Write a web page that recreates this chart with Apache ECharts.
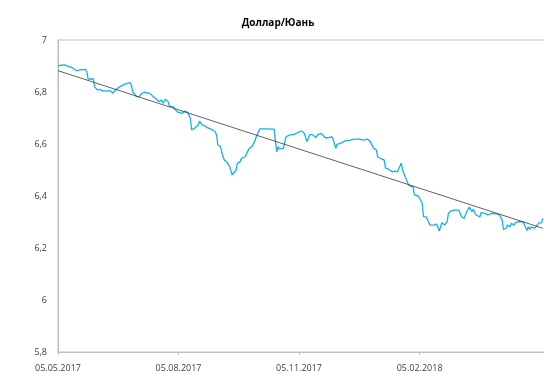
<!DOCTYPE html>
<html>
<head>
<meta charset="utf-8">
<script src="https://cdn.jsdelivr.net/npm/echarts@6/dist/echarts.min.js"></script>
<style>
  html, body { margin: 0; padding: 0; background: #fff; overflow: hidden; }
  #chart { width: 556px; height: 374px; }
</style>
</head>
<body>
<div id="chart"></div>
<script>
// USD/CNY daily rate, May 2017 - May 2018
const dates = [
  '2017-05-05','2017-05-10','2017-05-14','2017-05-16','2017-05-19','2017-05-20','2017-05-23','2017-05-26','2017-05-27','2017-05-28',
  '2017-06-01','2017-06-02','2017-06-04','2017-06-06','2017-06-08','2017-06-14','2017-06-16','2017-06-17','2017-06-19','2017-06-21',
  '2017-06-25','2017-06-29','2017-06-30','2017-07-01','2017-07-04','2017-07-06','2017-07-08','2017-07-10','2017-07-14','2017-07-16',
  '2017-07-19','2017-07-21','2017-07-23','2017-07-24','2017-07-26','2017-07-28','2017-07-29','2017-08-01','2017-08-02','2017-08-04',
  '2017-08-08','2017-08-10','2017-08-12','2017-08-14','2017-08-15','2017-08-16','2017-08-17','2017-08-20','2017-08-21','2017-08-23',
  '2017-08-25','2017-08-27','2017-08-31','2017-09-02','2017-09-03','2017-09-04','2017-09-06','2017-09-07','2017-09-08','2017-09-09',
  '2017-09-11','2017-09-12','2017-09-13','2017-09-15','2017-09-16','2017-09-18','2017-09-19','2017-09-21','2017-09-22','2017-09-25',
  '2017-09-26','2017-09-27','2017-09-28','2017-09-30','2017-10-02','2017-10-04','2017-10-06','2017-10-10','2017-10-17','2017-10-18',
  '2017-10-19','2017-10-20','2017-10-21','2017-10-24','2017-10-26','2017-10-27','2017-10-29','2017-10-30','2017-11-01','2017-11-03',
  '2017-11-05','2017-11-07','2017-11-09','2017-11-11','2017-11-12','2017-11-13','2017-11-15','2017-11-18','2017-11-19','2017-11-22',
  '2017-11-25','2017-11-27','2017-11-30','2017-12-01','2017-12-03','2017-12-04','2017-12-07','2017-12-10','2017-12-14','2017-12-17',
  '2017-12-21','2017-12-24','2017-12-27','2017-12-29','2017-12-30','2018-01-01','2018-01-03','2018-01-04','2018-01-06','2018-01-07',
  '2018-01-09','2018-01-10','2018-01-12','2018-01-13','2018-01-15','2018-01-17','2018-01-19','2018-01-22','2018-01-23','2018-01-25',
  '2018-01-27','2018-01-28','2018-01-31','2018-02-01','2018-02-04','2018-02-07','2018-02-08','2018-02-10','2018-02-11','2018-02-13',
  '2018-02-14','2018-02-16','2018-02-18','2018-02-19','2018-02-20','2018-02-22','2018-02-23','2018-02-24','2018-02-26','2018-02-27',
  '2018-03-01','2018-03-04','2018-03-07','2018-03-09','2018-03-11','2018-03-13','2018-03-15','2018-03-17','2018-03-18','2018-03-20',
  '2018-03-21','2018-03-23','2018-03-24','2018-03-27','2018-03-29','2018-04-01','2018-04-05','2018-04-07','2018-04-09','2018-04-10',
  '2018-04-12','2018-04-13','2018-04-15','2018-04-16','2018-04-18','2018-04-19','2018-04-21','2018-04-25','2018-04-26','2018-04-28',
  '2018-04-29','2018-04-30','2018-05-01','2018-05-04','2018-05-05','2018-05-07','2018-05-09','2018-05-10'
];

const rates = [
  6.901,6.904,6.897,6.893,6.882,6.887,6.886,6.887,6.878,6.850,
  6.850,6.820,6.808,6.810,6.804,6.804,6.795,6.804,6.812,6.820,
  6.830,6.836,6.827,6.801,6.782,6.782,6.795,6.799,6.795,6.786,
  6.773,6.763,6.769,6.757,6.772,6.763,6.747,6.743,6.735,6.724,
  6.718,6.727,6.722,6.699,6.654,6.647,6.660,6.673,6.688,6.673,
  6.670,6.663,6.654,6.647,6.635,6.596,6.590,6.570,6.551,6.538,
  6.530,6.526,6.513,6.481,6.478,6.500,6.526,6.532,6.545,6.551,
  6.564,6.564,6.583,6.590,6.609,6.637,6.658,6.658,6.657,6.609,
  6.570,6.590,6.581,6.583,6.628,6.622,6.635,6.628,6.637,6.641,
  6.647,6.650,6.641,6.609,6.603,6.635,6.637,6.624,6.635,6.641,
  6.624,6.624,6.628,6.619,6.583,6.599,6.603,6.612,6.615,6.619,
  6.619,6.615,6.619,6.612,6.609,6.583,6.577,6.551,6.545,6.551,
  6.538,6.507,6.504,6.504,6.493,6.496,6.493,6.526,6.500,6.474,
  6.449,6.440,6.436,6.404,6.400,6.372,6.320,6.320,6.327,6.288,
  6.295,6.288,6.292,6.280,6.265,6.297,6.297,6.288,6.301,6.333,
  6.343,6.346,6.346,6.320,6.314,6.340,6.357,6.340,6.349,6.327,
  6.333,6.320,6.336,6.333,6.327,6.333,6.331,6.327,6.308,6.272,
  6.276,6.288,6.282,6.295,6.288,6.297,6.301,6.301,6.295,6.267,
  6.282,6.272,6.280,6.276,6.282,6.297,6.297,6.314
];

// Linear trend endpoints
const trendDates = ['2017-05-05', '2018-05-10'];
const trendValues = [6.882, 6.276];

// Axis ticks
const tickDates = ['2017-05-05', '2017-08-05', '2017-11-05', '2018-02-05'];
const axisStart = '2017-05-05';
const axisEnd = '2018-05-14';

function toTime(s) {
  const p = s.split('-').map(Number);
  return new Date(p[0], p[1] - 1, p[2]).getTime();
}
function pad(n) { return (n < 10 ? '0' : '') + n; }
function fmtDate(t) {
  const d = new Date(t);
  return pad(d.getDate()) + '.' + pad(d.getMonth() + 1) + '.' + d.getFullYear();
}

const font = "'Open Sans', 'Noto Sans', sans-serif";
const axisGray = '#bfbfbf';
const tickTimes = tickDates.map(toTime);

const chart = echarts.init(document.getElementById('chart'), null, { renderer: 'canvas' });
chart.setOption({
  animation: false,
  backgroundColor: '#ffffff',
  title: {
    text: 'Доллар/Юань',
    left: 'center',
    top: 13,
    textStyle: { fontFamily: font, fontSize: 10, fontWeight: 'bold', color: '#000' }
  },
  grid: {
    left: 58, right: 8, top: 40, bottom: 22,
    show: true, borderColor: axisGray, borderWidth: 1, backgroundColor: 'transparent'
  },
  xAxis: {
    type: 'value',
    min: toTime(axisStart),
    max: toTime(axisEnd),
    axisLine: { show: true, onZero: false, lineStyle: { color: axisGray, width: 1 } },
    axisTick: { show: true, customValues: tickTimes, length: 3, lineStyle: { color: axisGray } },
    axisLabel: {
      customValues: tickTimes,
      formatter: fmtDate,
      fontFamily: font, fontSize: 9, color: '#404040', margin: 12,
      hideOverlap: false
    },
    splitLine: { show: false }
  },
  yAxis: {
    type: 'value',
    min: 5.8, max: 7, interval: 0.2,
    axisLine: { show: true, lineStyle: { color: axisGray, width: 1 } },
    axisTick: { show: false },
    axisLabel: {
      formatter: v => String(+v.toFixed(1)).replace('.', ','),
      fontFamily: font, fontSize: 9, color: '#404040', margin: 11
    },
    splitLine: { show: false }
  },
  series: [
    {
      name: 'Доллар/Юань',
      type: 'line',
      showSymbol: false,
      data: dates.map((d, i) => [toTime(d), rates[i]]),
      lineStyle: { color: '#14b0ec', width: 1.3 },
      z: 2
    },
    {
      name: 'trend',
      type: 'line',
      showSymbol: false,
      data: trendDates.map((d, i) => [toTime(d), trendValues[i]]),
      lineStyle: { color: '#3a3a3a', width: 0.8 },
      z: 3
    }
  ]
});
</script>
</body>
</html>
